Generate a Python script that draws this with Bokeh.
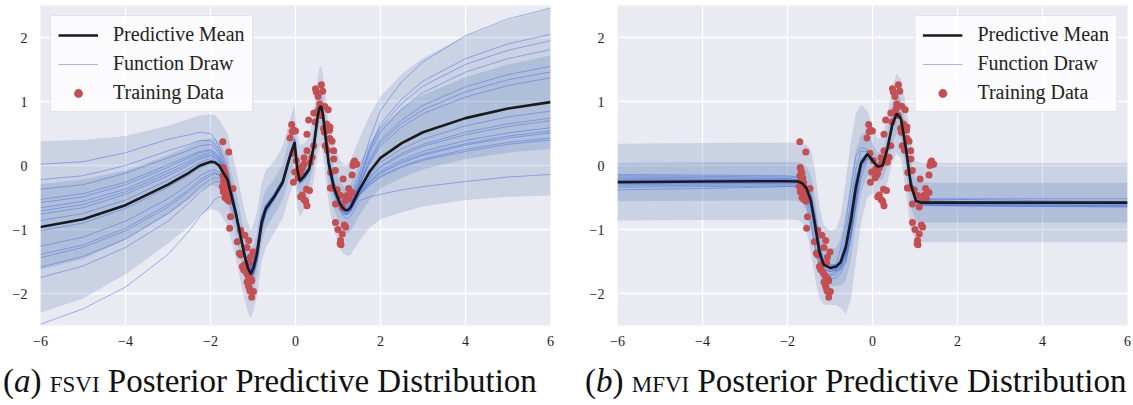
from bokeh.plotting import figure
from bokeh.layouts import row, column
from bokeh.models import Div, Range1d, FixedTicker, Legend, LegendItem
from bokeh.embed import file_html
from bokeh.resources import INLINE
import numpy as np

# ---------------- data: training points (shared by both panels) ----------------
train_x = [-1.71, -1.57, -1.70, -1.68, -1.66, -1.71, -1.64, -1.69, -1.62, -1.67, -1.72, -1.60, -1.65,
           -1.55, -1.47, -1.70, -1.63, -1.58, -1.66, -1.61, -1.56, -1.53, -1.55,
           -1.29, -1.19, -1.37, -1.10, -1.14, -1.32, -1.00, -1.06, -1.29, -1.25, -1.22, -1.12, -1.16,
           -1.05, -1.03, -1.14, -1.09, -1.11, -0.99, -1.07, -1.03, -1.20, -1.08,
           -0.09, -0.04, -0.08, 0.00, -0.13, -0.06, 0.02, -0.02, -0.05, 0.08, 0.12, 0.16, 0.20, 0.20,
           0.27, 0.27, 0.31, 0.43, 0.39, 0.26, 0.12, 0.16, 0.20, 0.24, 0.27, 0.33, 0.10, 0.14, 0.06, 0.35,
           0.47, 0.49, 0.61, 0.64, 0.53, 0.57, 0.43, 0.51, 0.69, 0.77, 0.46, 0.66, 0.68, 0.80, 0.86, 0.70,
           0.75, 0.90, 0.81, 0.81, 0.73, 0.55, 0.60,
           0.90, 0.94, 0.83, 0.87, 0.82, 0.98, 1.06, 0.94, 0.94, 1.00, 1.10, 1.06, 1.05, 1.07, 1.18, 1.15,
           1.12, 1.25, 1.21, 1.33, 1.33, 1.37, 1.40, 1.44, 1.39, 1.35, 1.17, 1.27, 1.10]
train_y = [0.37, 0.21, -0.03, -0.08, -0.12, -0.16, -0.20, -0.25, -0.27, -0.31, -0.33, -0.36, -0.38,
           -0.37, -0.36, -0.41, -0.44, -0.47, -0.50, -0.53, -0.56, -0.80, -0.98,
           -1.01, -1.09, -1.19, -1.17, -1.28, -1.37, -1.35, -1.43, -1.40, -1.58, -1.63, -1.72, -1.67,
           -1.77, -1.80, -1.82, -1.91, -1.87, -1.97, -1.96, -2.06, -1.55, -1.52,
           0.64, 0.55, 0.53, 0.54, 0.43, 0.19, 0.08, -0.10, -0.26, -0.05, -0.12, -0.04, 0.02, 0.12,
           0.23, 0.49, 0.71, 0.31, 0.13, -0.37, -0.49, -0.46, -0.53, -0.56, -0.63, -0.39, -0.15, -0.02, -0.19, 0.05,
           1.20, 1.15, 1.26, 1.16, 1.08, 0.96, 0.82, 0.83, 0.92, 0.87, 0.68, 0.58, 0.52, 0.55, 0.38, 0.31,
           0.24, 0.23, 0.60, 0.42, 0.65, 0.88, 0.78,
           0.10, -0.08, -0.11, -0.35, -0.35, -0.38, -0.47, -0.60, -0.89, -1.00, -1.07, -1.17, -1.22, -1.24, -0.96, -0.93,
           -0.21, -0.36, -0.47, -0.42, -0.15, 0.05, 0.02, 0.02, 0.07, 0.00, -0.55, -0.52, -0.65]

# ---------------- panel (a): FSVI ----------------
xs_a = [-6, -5, -4, -3, -2.5, -2.25, -2, -1.9, -1.8, -1.6, -1.4, -1.2, -1.12, -1.05, -0.98, -0.9,
        -0.8, -0.7, -0.5, -0.3, -0.15, -0.02, 0.04, 0.1, 0.2, 0.32, 0.43, 0.52, 0.56, 0.6, 0.64, 0.68,
        0.78, 0.9, 1.05, 1.12, 1.18, 1.24, 1.3, 1.5, 1.75, 2, 2.5, 3, 4, 5, 6]
mean_a = [-0.96, -0.84, -0.62, -0.30, -0.11, 0.00, 0.06, 0.05, 0.00, -0.22, -0.76, -1.40, -1.60,
          -1.70, -1.58, -1.36, -0.90, -0.68, -0.49, -0.26, 0.10, 0.36, -0.05, -0.24, -0.17, -0.06,
          0.30, 0.76, 0.89, 0.93, 0.82, 0.60, 0.04, -0.34, -0.60, -0.67, -0.70, -0.69, -0.65, -0.38,
          -0.09, 0.12, 0.35, 0.52, 0.74, 0.89, 0.99]
std_a = [0.67, 0.62, 0.54, 0.46, 0.42, 0.39, 0.37, 0.37, 0.36, 0.36, 0.35, 0.35, 0.35, 0.34, 0.34,
         0.33, 0.31, 0.30, 0.28, 0.28, 0.29, 0.30, 0.29, 0.28, 0.26, 0.25, 0.27, 0.30, 0.31, 0.31,
         0.31, 0.31, 0.32, 0.33, 0.34, 0.35, 0.35, 0.36, 0.37, 0.40, 0.44, 0.48, 0.54, 0.58, 0.64,
         0.69, 0.73]
# deviation of each function draw from the predictive mean, at xs_a
draw_dev_a = [
    [0.98, 0.90, 0.82, 0.71, 0.59, 0.52, 0.44, 0.37, 0.31, 0.18, 0.08, 0.05, 0.08, 0.10, 0.09, 0.08, 0.05, 0.04, 0.03, 0.02, 0.03, 0.05, 0.04, 0.02, 0.03, 0.02, 0.04, 0.06, 0.06, 0.05, 0.04, 0.03, 0.02, 0.01, -0.02, -0.02, -0.03, -0.03, -0.04, -0.07, -0.16, -0.23, -0.29, -0.34, -0.40, -0.43, -0.45],
    [0.74, 0.68, 0.62, 0.53, 0.44, 0.39, 0.33, 0.28, 0.24, 0.13, 0.06, 0.04, 0.05, 0.06, 0.05, 0.03, 0.02, 0.05, 0.06, 0.04, 0.02, 0.00, 0.02, 0.03, 0.02, -0.02, -0.03, 0.01, 0.02, 0.03, 0.04, 0.04, 0.05, 0.06, 0.05, 0.05, 0.06, 0.07, 0.08, 0.12, 0.29, 0.41, 0.53, 0.62, 0.72, 0.78, 0.82],
    [0.59, 0.54, 0.50, 0.42, 0.35, 0.31, 0.27, 0.23, 0.19, 0.11, 0.05, 0.03, 0.00, -0.02, -0.03, -0.04, -0.03, 0.02, 0.04, 0.05, 0.03, 0.04, 0.03, 0.02, 0.00, 0.03, 0.04, 0.02, 0.00, -0.02, -0.03, -0.03, -0.02, -0.04, -0.05, -0.05, -0.04, -0.04, -0.03, -0.02, -0.05, -0.07, -0.09, -0.11, -0.12, -0.13, -0.14],
    [0.43, 0.40, 0.36, 0.31, 0.26, 0.22, 0.19, 0.16, 0.14, 0.08, 0.03, 0.00, 0.03, 0.05, 0.07, 0.09, 0.06, 0.03, 0.01, -0.02, -0.03, -0.05, -0.02, -0.04, -0.01, 0.02, 0.03, -0.02, -0.03, -0.04, -0.03, -0.01, 0.02, 0.03, 0.04, 0.04, 0.05, 0.05, 0.06, 0.07, 0.16, 0.24, 0.31, 0.35, 0.41, 0.45, 0.47],
    [0.38, 0.35, 0.32, 0.27, 0.23, 0.20, 0.17, 0.14, 0.12, 0.07, 0.03, -0.03, -0.05, -0.06, -0.08, -0.10, -0.08, -0.04, 0.00, 0.03, 0.02, 0.03, 0.05, 0.04, 0.06, 0.04, 0.00, -0.04, -0.05, -0.06, -0.05, -0.04, -0.03, -0.05, -0.07, -0.07, -0.06, -0.06, -0.05, -0.08, -0.20, -0.28, -0.36, -0.42, -0.49, -0.53, -0.56],
    [0.30, 0.28, 0.25, 0.22, 0.18, 0.16, 0.14, 0.12, 0.10, 0.05, 0.02, 0.03, 0.06, 0.08, 0.10, 0.12, 0.10, 0.07, 0.04, 0.02, -0.02, -0.04, -0.06, -0.03, -0.02, 0.03, 0.05, 0.04, 0.05, 0.06, 0.07, 0.08, 0.07, 0.05, 0.06, 0.07, 0.08, 0.09, 0.10, 0.15, 0.34, 0.48, 0.62, 0.72, 0.84, 0.91, 0.96],
    [0.25, 0.23, 0.21, 0.18, 0.15, 0.13, 0.11, 0.09, 0.08, 0.05, 0.02, -0.02, -0.03, -0.04, -0.04, -0.03, 0.02, 0.04, 0.03, -0.02, -0.04, -0.06, -0.05, -0.03, -0.04, -0.03, -0.05, -0.06, -0.05, -0.04, -0.03, -0.02, -0.01, -0.03, -0.04, -0.04, -0.03, -0.03, -0.02, -0.04, -0.10, -0.15, -0.19, -0.22, -0.26, -0.28, -0.29],
    [0.20, 0.18, 0.17, 0.14, 0.12, 0.10, 0.09, 0.07, 0.06, 0.04, 0.02, 0.06, 0.08, 0.10, 0.09, 0.07, 0.04, 0.00, -0.03, -0.04, -0.02, 0.02, 0.04, 0.06, 0.05, 0.02, -0.02, -0.03, -0.01, 0.02, 0.04, 0.05, 0.06, 0.04, 0.02, 0.01, 0.00, -0.01, -0.02, -0.06, -0.14, -0.20, -0.26, -0.30, -0.35, -0.38, -0.40],
    [0.10, 0.09, 0.08, 0.07, 0.06, 0.05, 0.05, 0.04, 0.03, 0.02, 0.01, -0.04, -0.06, -0.08, -0.10, -0.12, -0.07, -0.02, 0.02, 0.04, 0.05, 0.02, -0.02, -0.04, -0.06, -0.03, 0.02, 0.04, 0.05, 0.05, 0.04, 0.02, -0.03, -0.05, -0.03, -0.02, 0.00, 0.02, 0.03, 0.06, 0.13, 0.19, 0.25, 0.29, 0.33, 0.36, 0.38],
    [-0.06, -0.06, -0.05, -0.04, -0.04, -0.03, -0.03, -0.02, -0.02, -0.01, 0.00, 0.02, 0.03, 0.04, 0.05, 0.06, 0.03, 0.01, -0.02, -0.05, -0.06, -0.04, 0.00, 0.02, 0.01, -0.01, -0.04, -0.02, -0.01, 0.00, 0.02, 0.03, 0.04, 0.02, 0.00, -0.01, -0.02, -0.02, -0.03, -0.04, -0.09, -0.13, -0.16, -0.19, -0.22, -0.24, -0.25],
    [-0.30, -0.28, -0.25, -0.22, -0.18, -0.16, -0.14, -0.12, -0.10, -0.05, -0.02, 0.04, 0.07, 0.09, 0.12, 0.14, 0.10, 0.05, 0.02, 0.00, 0.02, 0.04, 0.03, 0.00, -0.02, -0.04, -0.02, 0.03, 0.04, 0.05, 0.04, 0.02, -0.01, -0.02, 0.00, 0.01, 0.03, 0.04, 0.05, 0.08, 0.20, 0.28, 0.36, 0.42, 0.49, 0.53, 0.56],
    [-0.43, -0.40, -0.36, -0.31, -0.26, -0.22, -0.19, -0.16, -0.14, -0.08, -0.03, -0.05, -0.08, -0.10, -0.12, -0.13, -0.09, -0.05, -0.03, 0.02, 0.04, 0.05, 0.03, 0.01, 0.02, 0.00, -0.03, -0.05, -0.06, -0.07, -0.07, -0.06, -0.05, -0.06, -0.08, -0.08, -0.07, -0.07, -0.06, -0.09, -0.21, -0.30, -0.38, -0.44, -0.52, -0.56, -0.59],
    [-0.48, -0.44, -0.40, -0.35, -0.29, -0.26, -0.22, -0.18, -0.15, -0.09, -0.04, 0.00, 0.02, 0.03, 0.04, 0.05, 0.04, 0.02, 0.00, -0.03, -0.05, -0.02, 0.02, 0.05, 0.04, 0.03, 0.05, 0.07, 0.07, 0.06, 0.05, 0.05, 0.08, 0.09, 0.08, 0.09, 0.10, 0.12, 0.13, 0.18, 0.37, 0.53, 0.69, 0.80, 0.93, 1.01, 1.06],
    [-0.63, -0.58, -0.53, -0.45, -0.38, -0.33, -0.28, -0.24, -0.20, -0.11, -0.05, -0.06, -0.04, -0.02, 0.01, 0.03, 0.05, 0.03, 0.00, -0.02, 0.00, 0.03, 0.06, 0.04, 0.02, 0.01, -0.02, -0.04, -0.04, -0.03, -0.04, -0.05, -0.06, -0.04, -0.05, -0.05, -0.06, -0.06, -0.07, -0.07, -0.17, -0.24, -0.31, -0.36, -0.42, -0.46, -0.48],
    [-0.79, -0.73, -0.66, -0.57, -0.47, -0.42, -0.36, -0.30, -0.25, -0.14, -0.06, -0.03, -0.05, -0.07, -0.09, -0.10, -0.12, -0.08, -0.05, -0.03, 0.00, 0.02, 0.00, -0.02, -0.04, -0.05, -0.07, -0.08, -0.08, -0.07, -0.07, -0.08, -0.09, -0.10, -0.11, -0.11, -0.12, -0.13, -0.14, -0.17, -0.40, -0.57, -0.73, -0.85, -0.99, -1.07, -1.13],
    [-1.52, -1.40, -1.28, -1.09, -0.91, -0.80, -0.68, -0.58, -0.49, -0.27, -0.12, -0.04, 0.00, 0.04, 0.07, 0.10, 0.08, 0.04, 0.02, -0.01, -0.03, 0.00, 0.02, 0.04, 0.03, 0.02, 0.04, 0.06, 0.07, 0.08, 0.08, 0.07, 0.09, 0.10, 0.12, 0.13, 0.15, 0.17, 0.20, 0.25, 0.51, 0.74, 0.96, 1.10, 1.29, 1.40, 1.47],
]

# ---------------- panel (b): MFVI ----------------
xs_b = [-6, -4, -2, -1.75, -1.65, -1.55, -1.45, -1.35, -1.25, -1.15, -1.0, -0.85, -0.75, -0.63, -0.51,
        -0.39, -0.27, -0.12, 0.0, 0.12, 0.24, 0.35, 0.47, 0.57, 0.67, 0.78, 0.9, 1.02, 1.14, 1.5, 2, 4, 6]
mean_b = [-0.26, -0.25, -0.245, -0.25, -0.28, -0.36, -0.55, -0.93, -1.35, -1.55, -1.60, -1.58, -1.51,
          -1.28, -0.86, -0.34, 0.03, 0.18, 0.08, -0.02, 0.00, 0.26, 0.65, 0.81, 0.73, 0.29, -0.29,
          -0.55, -0.58, -0.58, -0.58, -0.58, -0.58]
std_b = [0.30, 0.30, 0.30, 0.30, 0.31, 0.34, 0.40, 0.42, 0.36, 0.31, 0.29, 0.30, 0.36, 0.52, 0.62,
         0.58, 0.46, 0.34, 0.26, 0.22, 0.22, 0.26, 0.30, 0.31, 0.31, 0.34, 0.36, 0.31, 0.31, 0.31,
         0.31, 0.31, 0.31]
draws_b = [
    [-0.14, -0.15, -0.16, -0.18, -0.25, -0.40, -0.70, -1.10, -1.45, -1.62, -1.66, -1.62, -1.50, -1.20, -0.70, -0.20, 0.10, 0.20, 0.10, -0.03, 0.02, 0.30, 0.70, 0.86, 0.76, 0.30, -0.30, -0.52, -0.55, -0.55, -0.56, -0.58, -0.60],
    [-0.38, -0.36, -0.33, -0.32, -0.33, -0.38, -0.50, -0.85, -1.25, -1.48, -1.55, -1.55, -1.52, -1.40, -1.05, -0.55, -0.05, 0.15, 0.10, 0.00, 0.03, 0.22, 0.60, 0.78, 0.75, 0.40, -0.18, -0.50, -0.60, -0.62, -0.63, -0.64, -0.65],
    [-0.22, -0.22, -0.21, -0.22, -0.30, -0.50, -0.85, -1.25, -1.55, -1.68, -1.70, -1.66, -1.55, -1.25, -0.75, -0.30, 0.05, 0.20, 0.12, 0.00, 0.00, 0.25, 0.68, 0.85, 0.72, 0.22, -0.35, -0.58, -0.60, -0.60, -0.60, -0.60, -0.60],
    [-0.30, -0.29, -0.28, -0.28, -0.29, -0.32, -0.42, -0.75, -1.20, -1.50, -1.62, -1.65, -1.62, -1.50, -1.15, -0.60, -0.10, 0.12, 0.05, -0.05, -0.02, 0.25, 0.62, 0.80, 0.74, 0.35, -0.25, -0.55, -0.62, -0.62, -0.62, -0.62, -0.62],
    [-0.18, -0.19, -0.20, -0.22, -0.28, -0.42, -0.66, -1.02, -1.38, -1.58, -1.64, -1.52, -1.30, -0.90, -0.35, 0.15, 0.28, 0.25, 0.12, -0.02, 0.05, 0.32, 0.72, 0.90, 0.80, 0.28, -0.32, -0.50, -0.52, -0.52, -0.53, -0.55, -0.56],
    [-0.26, -0.26, -0.25, -0.25, -0.27, -0.34, -0.55, -0.95, -1.40, -1.70, -1.78, -1.75, -1.68, -1.50, -1.10, -0.50, 0.00, 0.15, 0.05, -0.05, 0.00, 0.22, 0.60, 0.76, 0.70, 0.32, -0.25, -0.56, -0.60, -0.60, -0.60, -0.60, -0.60],
    [-0.34, -0.33, -0.32, -0.33, -0.40, -0.62, -0.95, -1.30, -1.52, -1.58, -1.58, -1.55, -1.45, -1.10, -0.55, -0.05, 0.22, 0.22, 0.10, 0.00, 0.02, 0.28, 0.66, 0.82, 0.70, 0.25, -0.30, -0.52, -0.56, -0.57, -0.57, -0.58, -0.58],
    [-0.20, -0.21, -0.22, -0.23, -0.24, -0.30, -0.45, -0.80, -1.25, -1.52, -1.62, -1.63, -1.60, -1.45, -1.00, -0.40, 0.00, 0.16, 0.06, -0.04, -0.01, 0.24, 0.64, 0.82, 0.76, 0.34, -0.22, -0.52, -0.58, -0.60, -0.61, -0.62, -0.63],
    [-0.28, -0.28, -0.27, -0.27, -0.30, -0.40, -0.62, -1.00, -1.40, -1.60, -1.66, -1.64, -1.58, -1.35, -0.90, -0.40, 0.00, 0.18, 0.10, -0.02, 0.00, 0.26, 0.66, 0.84, 0.75, 0.28, -0.30, -0.56, -0.58, -0.59, -0.59, -0.59, -0.59],
    [-0.24, -0.24, -0.24, -0.24, -0.26, -0.33, -0.50, -0.88, -1.30, -1.52, -1.58, -1.58, -1.54, -1.32, -0.85, -0.30, 0.06, 0.20, 0.10, -0.02, 0.00, 0.27, 0.66, 0.82, 0.74, 0.30, -0.28, -0.54, -0.57, -0.57, -0.57, -0.58, -0.58],
    [-0.32, -0.31, -0.30, -0.30, -0.32, -0.38, -0.55, -0.98, -1.42, -1.64, -1.72, -1.70, -1.62, -1.35, -0.80, -0.25, 0.08, 0.18, 0.06, -0.04, 0.00, 0.28, 0.70, 0.86, 0.74, 0.26, -0.32, -0.58, -0.62, -0.63, -0.63, -0.64, -0.64],
    [-0.16, -0.17, -0.18, -0.19, -0.23, -0.32, -0.52, -0.90, -1.30, -1.50, -1.55, -1.56, -1.55, -1.42, -1.10, -0.65, -0.20, 0.10, 0.08, 0.00, 0.02, 0.24, 0.62, 0.78, 0.72, 0.36, -0.20, -0.50, -0.54, -0.53, -0.52, -0.52, -0.52],
]

x_ticks = [-6, -4, -2, 0, 2, 4, 6]
y_ticks = [-2, -1, 0, 1, 2]
legend_labels = ["Predictive Mean", "Function Draw", "Training Data"]

# ---------------- styling ----------------
BG = "#EAEAF2"
BAND = "#4C72B0"
DRAW = "#4169E1"
MEAN = "#1A1A1A"
DOT = "#C44E52"
SVG_FONT = "serif"
FIG_H = 355


def make_panel(width, border_left, border_right, xs, mean, std, draws, legend_loc):
    p = figure(width=width, height=FIG_H, x_range=Range1d(-6, 6), y_range=Range1d(-2.5, 2.5),
               output_backend="svg", toolbar_location=None,
               min_border_left=border_left, min_border_right=border_right,
               min_border_top=5, min_border_bottom=30)
    p.background_fill_color = BG
    p.border_fill_color = "white"
    p.outline_line_color = None
    p.grid.grid_line_color = "white"
    p.grid.grid_line_width = 1.3
    p.xaxis.ticker = FixedTicker(ticks=x_ticks, minor_ticks=[])
    p.yaxis.ticker = FixedTicker(ticks=y_ticks, minor_ticks=[])
    p.xgrid.ticker = FixedTicker(ticks=x_ticks, minor_ticks=[])
    p.ygrid.ticker = FixedTicker(ticks=y_ticks, minor_ticks=[])
    p.xaxis.major_label_overrides = {t: ("\u2212" + str(-t) if t < 0 else str(t)) for t in x_ticks}
    p.yaxis.major_label_overrides = {t: ("\u2212" + str(-t) if t < 0 else str(t)) for t in y_ticks}
    for ax in (p.xaxis[0], p.yaxis[0]):
        ax.axis_line_color = None
        ax.major_tick_line_color = None
        ax.minor_tick_line_color = None
        ax.major_tick_out = 0
        ax.major_tick_in = 0
        ax.minor_tick_out = 0
        ax.major_label_text_font = SVG_FONT
        ax.major_label_text_font_size = "14px"
        ax.major_label_text_color = "#222222"
    p.xaxis.major_label_standoff = 10
    p.yaxis.major_label_standoff = 13

    m = np.array(mean)
    s = np.array(std)
    p.varea(x=xs, y1=m - 2 * s, y2=m + 2 * s, fill_color=BAND, fill_alpha=0.2)
    p.varea(x=xs, y1=m - s, y2=m + s, fill_color=BAND, fill_alpha=0.2)

    draw_renderers = []
    for d in draws:
        r = p.line(xs, list(d), line_color=DRAW, line_width=0.8, line_alpha=0.6)
        draw_renderers.append(r)
    r_dots = p.scatter(train_x, train_y, size=7, fill_color=DOT, line_color=None)
    r_mean = p.line(xs, mean, line_color=MEAN, line_width=2.6)

    legend = Legend(items=[LegendItem(label=legend_labels[0], renderers=[r_mean]),
                           LegendItem(label=legend_labels[1], renderers=[draw_renderers[0]]),
                           LegendItem(label=legend_labels[2], renderers=[r_dots])],
                    location=legend_loc)
    legend.background_fill_color = "white"
    legend.background_fill_alpha = 0.8
    legend.border_line_color = "#CCCCCC"
    legend.border_line_width = 1
    legend.label_text_font = SVG_FONT
    legend.label_text_font_size = "20px"
    legend.label_text_color = "#222222"
    legend.glyph_width = 40
    legend.glyph_height = 22
    legend.label_height = 22
    legend.label_standoff = 15
    legend.spacing = 6
    legend.padding = 7
    legend.margin = 10
    p.add_layout(legend)
    return p


abs_draws_a = [list(np.array(mean_a) + np.array(d)) for d in draw_dev_a]

# left panel: frame x 40..550 ; right panel: frame x 617..1127
p1 = make_panel(565, 40, 15, xs_a, mean_a, std_a, abs_draws_a, "top_left")
p2 = make_panel(568, 52, 6, xs_b, mean_b, std_b, draws_b, "top_right")


def caption(letter, method, width, pad_left):
    html = ('<div style="font-family:\'Liberation Serif\', serif; font-size:33px; '
            'line-height:40px; color:#111; white-space:nowrap; padding-top:6px; '
            f'padding-left:{pad_left}px;">'
            f'(<i>{letter}</i>) <span style="font-variant:small-caps;">{method}</span> '
            'Posterior Predictive Distribution</div>')
    return Div(text=html, width=width, height=50, margin=0)


cap_a = caption("a", "fsvi", 565, 3)
cap_b = caption("b", "mfvi", 568, 20)

layout = row(column(p1, cap_a), column(p2, cap_b))

open("out.html", "w").write(file_html(layout, INLINE))
